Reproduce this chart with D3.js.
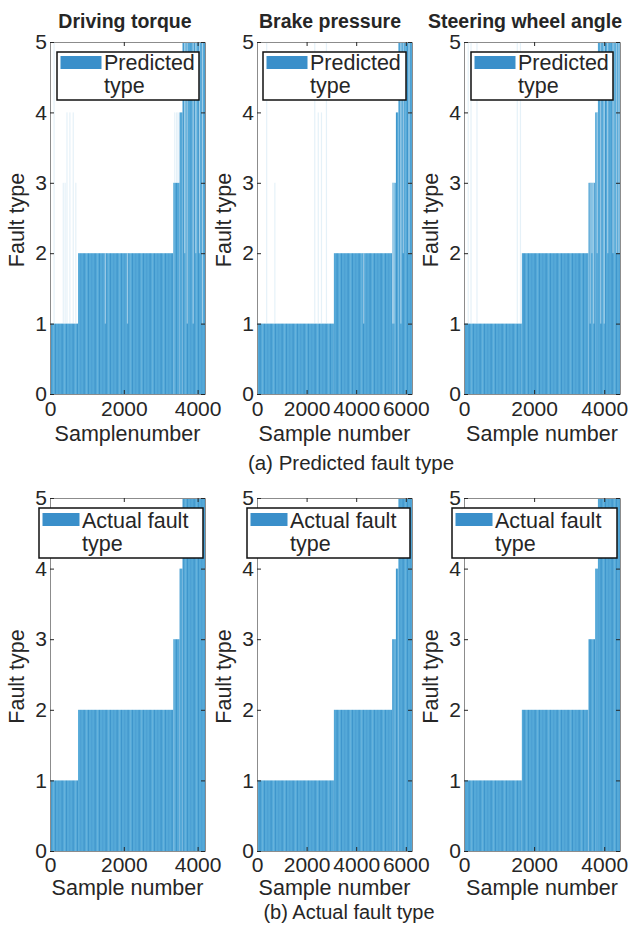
<!DOCTYPE html>
<html>
<head>
<meta charset="utf-8">
<script src="https://cdn.jsdelivr.net/npm/d3@7"></script>
<style>
  body { margin: 0; background: #fff; }
  text { font-family: "Liberation Sans", Arial, sans-serif; fill: #262626; }
</style>
</head>
<body>
<script>
// data
var titles = ["Driving torque", "Brake pressure", "Steering wheel angle"];
var xLabelsTop = ["Samplenumber", "Sample number", "Sample number"];
var xLabelsBottom = ["Sample number", "Sample number", "Sample number"];
var sampleMax = [4200, 6250, 4450];
var xTickVals = [[0, 2000, 4000], [0, 2000, 4000, 6000], [0, 2000, 4000]];
var yTickVals = [0, 1, 2, 3, 4, 5];
var faultTypes = [1, 2, 3, 4, 5];
// boundaries where the actual fault type steps up (type 1..5)
var torqueBounds = [0, 760, 3340, 3510, 3590, 4200];
var brakeBounds = [0, 3100, 5450, 5600, 5700, 6250];
var steerBounds = [0, 1650, 3550, 3740, 3820, 4450];
// misclassified samples in the prediction: [sample, predicted type]
var torqueErrors = [[110,5],[360,3],[410,3],[460,4],[540,4],[630,4],[700,3],[1500,1],[2100,1],
  [3380,4],[3430,4],[3470,4],[3650,2],[3720,1],[3880,1],[3950,2],[4050,2],[4130,1]];
var brakeErrors = [[390,5],[720,3],[2330,5],[2470,4],[2600,4],[2800,5],[4300,1],
  [5470,1],[5520,1],[5800,1],[5900,2],[6130,2]];
var steerErrors = [[120,5],[200,5],[370,5],[1520,5],[1610,5],[3600,1],[3650,2],[3700,1],
  [3800,2],[3900,1],[4000,1],[4100,2],[4250,2],[4350,2],[4420,2]];
var legendTop = ["Predicted", "type"];
var legendBottom = ["Actual fault", "type"];
var captions = ["(a) Predicted fault type", "(b) Actual fault type"];

var bounds = [torqueBounds, brakeBounds, steerBounds];
var errors = [torqueErrors, brakeErrors, steerErrors];

var W = 632, H = 932;
var cols = [{l: 50, r: 205}, {l: 257, r: 412}, {l: 464, r: 620}];
var rows = [
  {t: 42, b: 394, xlab: 441, pad: 7, showErr: true, legend: legendTop,
   lg: [{x0: 7, x1: -6}, {x0: 6, x1: -6}, {x0: 7, x1: -7}], lgTop: 52, lgH: 48, sw: 41, swY: 56, base: 70},
  {t: 498, b: 851, xlab: 895, pad: 6, showErr: false, legend: legendBottom,
   lg: [{x0: -11, x1: -2}, {x0: -10, x1: -2}, {x0: -12, x1: -3}], lgTop: 508, lgH: 50, sw: 37, swY: 513, base: 528}
];

var svg = d3.select("body").append("svg").attr("width", W).attr("height", H);

// striped fill, like many thin MATLAB bars next to each other
var pat = svg.append("defs").append("pattern")
  .attr("id", "stripes").attr("patternUnits", "userSpaceOnUse")
  .attr("width", 11).attr("height", 10);
pat.append("rect").attr("width", 11).attr("height", 10).attr("fill", "#55a9d8");
[[0, 1, "#3f96cc"], [3.5, 0.7, "#449ad0"], [6.5, 1.2, "#3e95cc"], [9, 0.6, "#72b9e0"]].forEach(function(s) {
  pat.append("rect").attr("x", s[0]).attr("width", s[1]).attr("height", 10).attr("fill", s[2]);
});

rows.forEach(function(row, ri) {
  cols.forEach(function(col, ci) {
    var x = d3.scaleLinear().domain([0, sampleMax[ci]]).range([col.l, col.r]);
    var y = d3.scaleLinear().domain([0, 5]).range([row.b, row.t]);
    var g = svg.append("g");
    var b = bounds[ci];

    g.selectAll("rect.bar").data(faultTypes).enter().append("rect")
      .attr("class", "bar")
      .attr("x", function(d, i) { return x(b[i]); })
      .attr("width", function(d, i) { return x(b[i + 1]) - x(b[i]); })
      .attr("y", function(d) { return y(d); })
      .attr("height", function(d) { return y(0) - y(d); })
      .attr("fill", "url(#stripes)");

    if (row.showErr) {
      var actualAt = function(s) {
        for (var i = 0; i < faultTypes.length; i++) if (s < b[i + 1]) return faultTypes[i];
        return 5;
      };
      g.selectAll("rect.err").data(errors[ci]).enter().append("rect")
        .attr("class", "err")
        .attr("x", function(d) { return x(d[0]) - 0.6; })
        .attr("width", 1.2)
        .attr("y", function(d) { return y(Math.max(d[1], actualAt(d[0]))); })
        .attr("height", function(d) { return Math.abs(y(d[1]) - y(actualAt(d[0]))); })
        .attr("fill", function(d) { return d[1] > actualAt(d[0]) ? "#a8d0e8" : "#ffffff"; })
        .attr("opacity", function(d) { return d[1] > actualAt(d[0]) ? 0.3 : 0.45; });
    }

    // axes with inward ticks, mirrored on the top and right
    var style = function(sel) {
      sel.selectAll("text").style("font-size", "21px").attr("fill", "#262626");
      sel.selectAll(".tick line").attr("stroke", "#262626");
      sel.select(".domain").attr("stroke", "#8c8c8c");
    };
    var fmt = d3.format("d");
    g.append("g").attr("transform", "translate(0," + row.b + ")")
      .call(d3.axisBottom(x).tickValues(xTickVals[ci]).tickFormat(fmt).tickSize(-4).tickSizeOuter(0).tickPadding(row.pad))
      .call(style);
    g.append("g").attr("transform", "translate(0," + row.t + ")")
      .call(d3.axisTop(x).tickValues(xTickVals[ci]).tickSize(-4).tickSizeOuter(0).tickFormat(""))
      .call(style);
    g.append("g").attr("transform", "translate(" + col.l + ",0)")
      .call(d3.axisLeft(y).tickValues(yTickVals).tickFormat(fmt).tickSize(-4).tickSizeOuter(0).tickPadding(3))
      .call(style);
    g.append("g").attr("transform", "translate(" + col.r + ",0)")
      .call(d3.axisRight(y).tickValues(yTickVals).tickSize(-4).tickSizeOuter(0).tickFormat(""))
      .call(style);

    // axis labels
    g.append("text").attr("x", (col.l + col.r) / 2).attr("y", row.xlab)
      .attr("text-anchor", "middle").style("font-size", "21.5px")
      .text(ri === 0 ? xLabelsTop[ci] : xLabelsBottom[ci]);
    g.append("text")
      .attr("transform", "translate(" + (col.l - 26) + "," + ((row.t + row.b) / 2 + 2) + ") rotate(-90)")
      .attr("text-anchor", "middle").style("font-size", "21.5px")
      .text("Fault type");

    // legend
    var lx0 = col.l + row.lg[ci].x0, lx1 = col.r + row.lg[ci].x1;
    var lg = g.append("g");
    lg.append("rect").attr("x", lx0).attr("y", row.lgTop)
      .attr("width", lx1 - lx0).attr("height", row.lgH)
      .attr("fill", "#fff").attr("stroke", "#111").attr("stroke-width", 1.5);
    lg.append("rect").attr("x", lx0 + 3.5).attr("y", row.swY)
      .attr("width", row.sw).attr("height", 13).attr("fill", "#3a8fca");
    row.legend.forEach(function(t, k) {
      lg.append("text").attr("x", lx0 + 3.5 + row.sw + 2.5).attr("y", row.base + k * 22.5)
        .style("font-size", "21.5px").text(t);
    });
  });
});

// panel titles
var titleX = [125, 330, 525];
titles.forEach(function(t, i) {
  svg.append("text").attr("x", titleX[i]).attr("y", 28)
    .attr("text-anchor", "middle").style("font-size", "19.5px").style("font-weight", "bold")
    .text(t);
});

// captions
svg.append("text").attr("x", 351).attr("y", 470).attr("text-anchor", "middle")
  .style("font-size", "20.5px").text(captions[0]);
svg.append("text").attr("x", 349).attr("y", 919).attr("text-anchor", "middle")
  .style("font-size", "20px").text(captions[1]);
</script>
</body>
</html>
